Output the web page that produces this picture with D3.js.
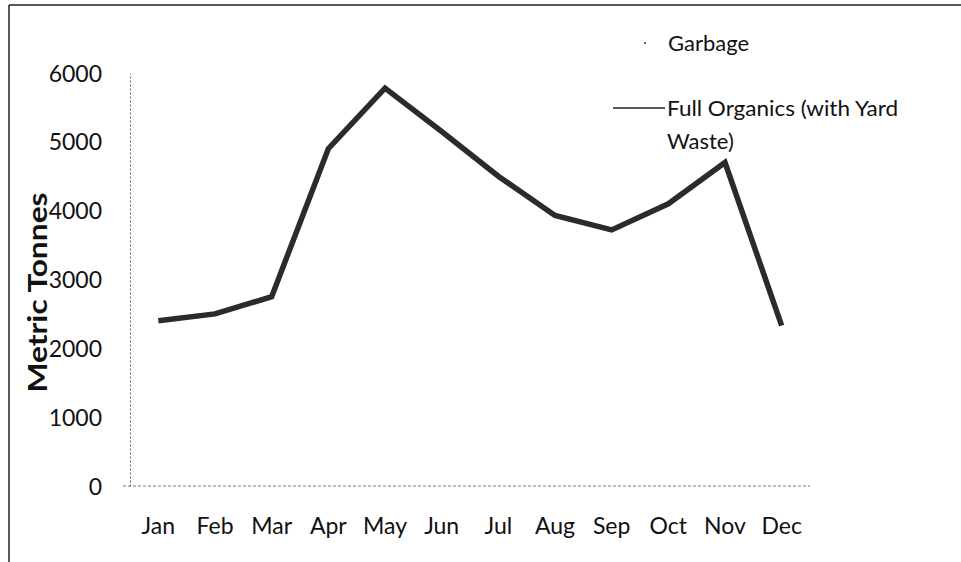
<!DOCTYPE html>
<html>
<head>
<meta charset="utf-8">
<script src="https://cdn.jsdelivr.net/npm/d3@7"></script>
<style>
  html, body { margin: 0; padding: 0; background: #fff; }
  svg text { font-family: Lato, "Open Sans", sans-serif; fill: #111; }
</style>
</head>
<body>
<svg id="chart" width="961" height="562"></svg>
<script>
// Monthly tonnage
const months = ["Jan", "Feb", "Mar", "Apr", "May", "Jun", "Jul", "Aug", "Sep", "Oct", "Nov", "Dec"];
const fullOrganics = [2400, 2500, 2750, 4900, 5780, 5150, 4500, 3930, 3720, 4100, 4700, 2330];
const yTicks = [0, 1000, 2000, 3000, 4000, 5000, 6000];
const seriesNames = ["Garbage", "Full Organics (with Yard", "Waste)"];

const svg = d3.select("#chart");
const margin = { left: 130, right: 151, top: 73, bottom: 76 };
const W = 961, H = 562;

const x = d3.scaleBand().domain(months).range([margin.left, W - margin.right]);
const y = d3.scaleLinear().domain([0, 6000]).range([H - margin.bottom, margin.top]);

// Outer frame (top and left edges)
svg.append("line").attr("x1", 9).attr("x2", W).attr("y1", 5).attr("y2", 5)
  .attr("stroke", "#222").attr("stroke-width", 1.5);
svg.append("line").attr("x1", 9).attr("x2", 9).attr("y1", 5).attr("y2", H)
  .attr("stroke", "#222").attr("stroke-width", 1.5);

// Y axis
const yAxis = svg.append("g").attr("transform", `translate(${margin.left},0)`)
  .call(d3.axisLeft(y).tickValues(yTicks).tickSize(0).tickPadding(28).tickFormat(d3.format("d")));
yAxis.select(".domain").attr("stroke", "#666").attr("stroke-dasharray", "2,2").attr("stroke-width", 1);
yAxis.selectAll("text").attr("font-size", 23).attr("dy", "0.35em");

// X axis
const xAxis = svg.append("g").attr("transform", `translate(0,${y(0)})`)
  .call(d3.axisBottom(x).tickSize(0).tickPadding(32));
xAxis.select(".domain").attr("stroke", "#777").attr("stroke-dasharray", "3,2").attr("stroke-width", 1)
  .attr("d", `M${margin.left - 7},0H${W - margin.right}`);
xAxis.selectAll("text").attr("font-size", 23);

// Y axis title
svg.append("text")
  .attr("transform", `translate(38,${(y(0) + y(6000)) / 2 + 13}) rotate(-90)`)
  .attr("text-anchor", "middle").attr("dy", "0.35em").attr("font-size", 26).attr("font-weight", 700)
  .attr("textLength", 200).attr("lengthAdjust", "spacingAndGlyphs")
  .text("Metric Tonnes");

// Full Organics line
const line = d3.line()
  .x((d, i) => x(months[i]) + x.bandwidth() / 2)
  .y(d => y(d));
svg.append("path").datum(fullOrganics)
  .attr("d", line)
  .attr("fill", "none").attr("stroke", "#2b2b2b").attr("stroke-width", 5.5)
  .attr("stroke-linejoin", "miter");

// Legend
const lg = svg.append("g");
lg.append("circle").attr("cx", 645).attr("cy", 43).attr("r", 1).attr("fill", "#333");
lg.append("text").attr("x", 668).attr("y", 43).attr("dy", "0.35em").attr("font-size", 22).text(seriesNames[0]);
lg.append("line").attr("x1", 613).attr("x2", 665).attr("y1", 108).attr("y2", 108)
  .attr("stroke", "#222").attr("stroke-width", 1.5);
lg.append("text").attr("x", 667).attr("y", 108).attr("dy", "0.35em").attr("font-size", 22)
  .attr("textLength", 231).attr("lengthAdjust", "spacingAndGlyphs").text(seriesNames[1]);
lg.append("text").attr("x", 667).attr("y", 141).attr("dy", "0.35em").attr("font-size", 22).text(seriesNames[2]);
</script>
</body>
</html>
